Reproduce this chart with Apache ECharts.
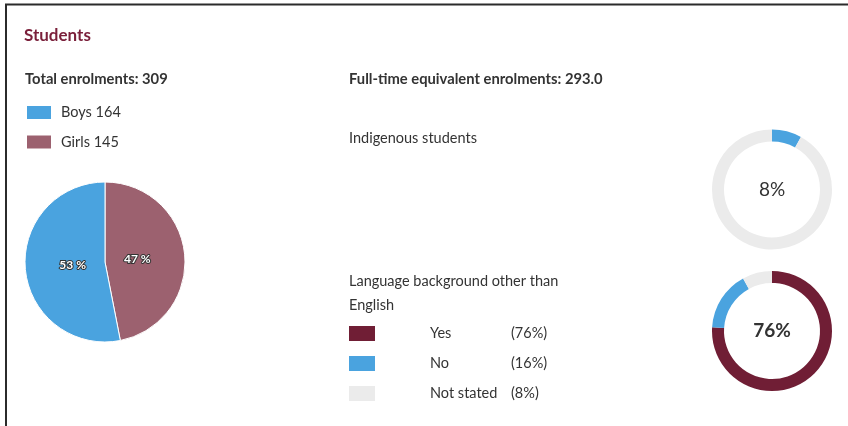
<!DOCTYPE html>
<html>
<head>
<meta charset="utf-8">
<script src="https://cdn.jsdelivr.net/npm/echarts@6/dist/echarts.min.js"></script>
<style>
  html, body { margin: 0; padding: 0; background: #fff; }
  #chart { width: 848px; height: 426px; }
</style>
</head>
<body>
<div id="chart"></div>
<script>
const genderNames = ['Girls', 'Boys']
const genderValues = [145, 164]
const genderLegend = ['Boys', 'Girls']
const indigenousNames = ['Indigenous', 'Non-Indigenous']
const indigenousValues = [8, 92]
const languageNames = ['Yes', 'No', 'Not stated']
const languageValues = [76, 16, 8]
const totalEnrolments = 309
const fteEnrolments = '293.0'

const MAROON = '#701e35'
const BLUE = '#4aa3df'
const PINK = '#9c616f'
const GREY = '#ebebeb'
const TEXT = '#333333'
const FONT = 'Lato'

const chart = echarts.init(document.getElementById('chart'), null, { renderer: 'canvas' })

const titleStyle = (size, weight, color) => ({
  fontFamily: FONT,
  fontSize: size,
  fontWeight: weight,
  color: color || TEXT,
  lineHeight: 23.5
})

const genderData = genderNames.map((n, i) => ({
  name: n,
  value: genderValues[i],
  itemStyle: { color: n === 'Boys' ? BLUE : PINK }
}))

const indigenousData = indigenousNames.map((n, i) => ({
  name: n,
  value: indigenousValues[i],
  itemStyle: { color: i === 0 ? BLUE : GREY },
  label: { show: i === 0 }
}))

const languageColors = [MAROON, BLUE, GREY]
const languageData = languageNames.map((n, i) => ({
  name: n,
  value: languageValues[i],
  itemStyle: { color: languageColors[i] },
  label: { show: i === 0 }
}))

const option = {
  animation: false,
  backgroundColor: '#fff',
  graphic: [
    {
      type: 'polyline',
      silent: true,
      shape: { points: [[6, 426], [6, 4.5], [848, 4.5]] },
      style: { stroke: '#2b2b2b', lineWidth: 2, fill: null }
    }
  ],
  title: [
    { text: 'Students', left: 24, top: 24, padding: 0, textStyle: titleStyle(17, 'bold', '#7a1f3a') },
    { text: 'Total enrolments: ' + totalEnrolments, left: 25, top: 67, padding: 0, textStyle: titleStyle(14.75, 'bold') },
    { text: 'Full-time equivalent enrolments: ' + fteEnrolments, left: 349, top: 67, padding: 0, textStyle: titleStyle(14.75, 'bold') },
    { text: 'Indigenous students', left: 349, top: 127, padding: 0, textStyle: titleStyle(14.5, 'normal') },
    { text: 'Language background other than\nEnglish', left: 349, top: 270, padding: 0, textStyle: titleStyle(14.5, 'normal') }
  ],
  legend: [
    {
      data: genderLegend,
      orient: 'vertical',
      left: 25,
      top: 104,
      padding: 0,
      itemWidth: 26,
      itemHeight: 15,
      itemGap: 12.5,
      icon: 'rect',
      selectedMode: false,
      formatter: name => name + ' ' + genderValues[genderNames.indexOf(name)],
      textStyle: { fontFamily: FONT, fontSize: 14.5, color: TEXT, padding: [0, 0, 0, 4] }
    },
    {
      data: languageNames,
      orient: 'vertical',
      left: 349,
      top: 326,
      padding: 0,
      itemWidth: 26,
      itemHeight: 15,
      itemGap: 15,
      icon: 'rect',
      selectedMode: false,
      formatter: name => '{pad|}{a|' + name + '}{b|(' + languageValues[languageNames.indexOf(name)] + '%)}',
      textStyle: {
        fontFamily: FONT,
        fontSize: 14.5,
        color: TEXT,
        rich: {
          pad: { width: 50 },
          a: { width: 81, fontFamily: FONT, fontSize: 14.5, color: TEXT },
          b: { fontFamily: FONT, fontSize: 14.5, color: TEXT }
        }
      }
    }
  ],
  series: [
    {
      type: 'pie',
      silent: true,
      center: [105, 262],
      radius: [0, 80],
      startAngle: 90,
      clockwise: true,
      data: genderData,
      itemStyle: { borderColor: '#fff', borderWidth: 1 },
      label: { show: false },
      labelLine: { show: false }
    },
    {
      // same data again, transparent, only to place the percentage labels nearer the centre
      type: 'pie',
      silent: true,
      center: [105, 262],
      radius: [0, 59],
      startAngle: 90,
      clockwise: true,
      data: genderData.map(d => ({ name: d.name, value: d.value })),
      itemStyle: { color: 'rgba(0,0,0,0)' },
      label: {
        position: 'inside',
        formatter: p => Math.round(p.percent) + ' %',
        fontFamily: FONT,
        fontSize: 12,
        fontWeight: 'bold',
        color: '#fff',
        textBorderColor: '#333',
        textBorderWidth: 2
      },
      labelLine: { show: false }
    },
    {
      type: 'pie',
      silent: true,
      center: [772, 189.5],
      radius: [48, 60],
      startAngle: 90,
      data: indigenousData,
      label: {
        position: 'center',
        formatter: p => p.value + '%',
        fontFamily: FONT,
        fontSize: 19,
        fontWeight: 'normal',
        color: TEXT
      },
      labelLine: { show: false }
    },
    {
      type: 'pie',
      silent: true,
      center: [772, 331],
      radius: [48, 60],
      startAngle: 90,
      data: languageData,
      label: {
        position: 'center',
        formatter: p => p.value + '%',
        fontFamily: FONT,
        fontSize: 19,
        fontWeight: 'bold',
        color: TEXT
      },
      labelLine: { show: false }
    }
  ]
}

chart.setOption(option)
window.addEventListener('resize', () => chart.resize())
</script>
</body>
</html>
